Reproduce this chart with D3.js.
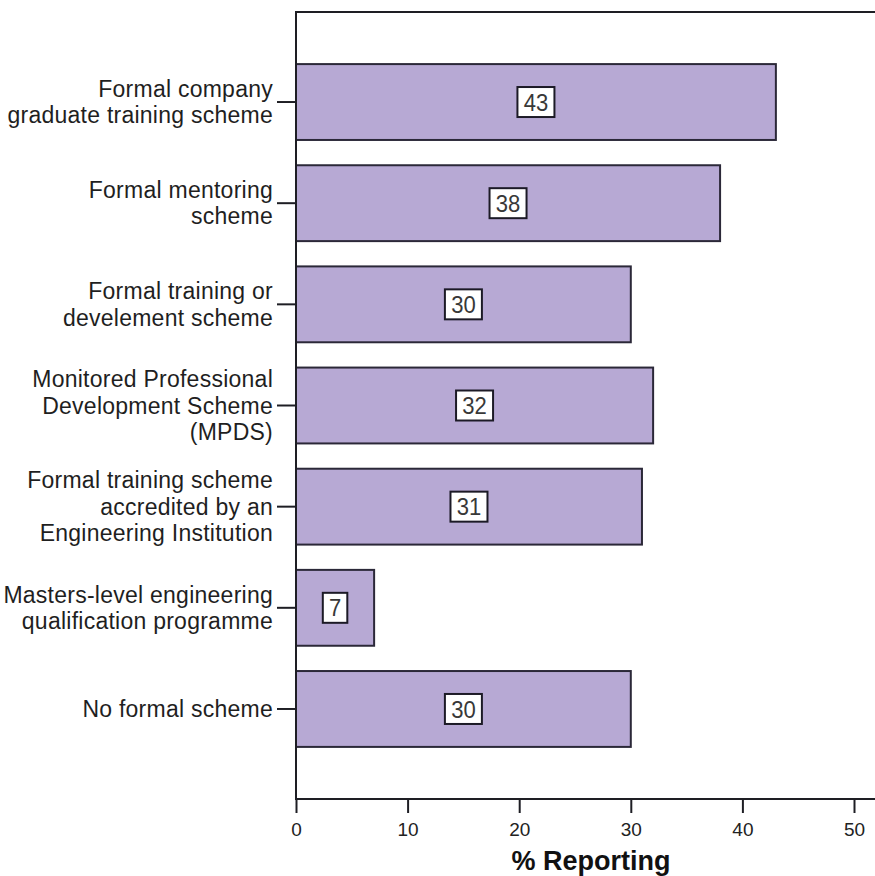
<!DOCTYPE html>
<html>
<head>
<meta charset="utf-8">
<script src="https://cdn.jsdelivr.net/npm/d3@7"></script>
<style>
  html, body { margin: 0; padding: 0; background: #fff; }
  svg { display: block; }
  text { font-family: "Liberation Sans", Arial, sans-serif; }
</style>
</head>
<body>
<svg id="chart" width="875" height="876"></svg>
<script>
// Categories (line breaks as drawn on the axis) and percentages reporting each scheme
const categories = [
  "Formal company\ngraduate training scheme",
  "Formal mentoring\nscheme",
  "Formal training or\ndevelement scheme",
  "Monitored Professional\nDevelopment Scheme\n(MPDS)",
  "Formal training scheme\naccredited by an\nEngineering Institution",
  "Masters-level engineering\nqualification programme",
  "No formal scheme"
];
const percentages = [43, 38, 30, 32, 31, 7, 30];
const xTicks = [0, 10, 20, 30, 40, 50];
const xTitle = "% Reporting";

const W = 875, H = 876;
const plotLeft = 296, plotTop = 12, plotBottom = 799;

const svg = d3.select("#chart");

const x = d3.scaleLinear().domain([0, 50]).range([plotLeft, 854]);
const y = d3.scaleBand().domain(categories).range([plotTop, plotBottom])
  .paddingInner(0.25).paddingOuter(0.515);

const ink = "#1e1e24";

// Bars
svg.append("g").selectAll("rect")
  .data(percentages)
  .join("rect")
  .attr("x", x(0))
  .attr("y", (d, i) => y(categories[i]))
  .attr("width", d => x(d) - x(0))
  .attr("height", y.bandwidth())
  .attr("fill", "#b7a9d4")
  .attr("stroke", "#2b2838")
  .attr("stroke-width", 2);

// Value boxes centred on each bar
const vals = svg.append("g").selectAll("g")
  .data(percentages)
  .join("g")
  .attr("transform", (d, i) =>
    `translate(${(x(0) + x(d)) / 2},${y(categories[i]) + y.bandwidth() / 2})`);

vals.each(function (d) {
  const g = d3.select(this);
  g.append("text")
    .attr("text-anchor", "middle")
    .attr("dy", "0.36em")
    .attr("font-size", 24)
    .attr("fill", "#383838")
    .attr("transform", "scale(0.92,1)")
    .text(d);
  const w = String(d).length * 12.5 + 12;
  g.insert("rect", "text")
    .attr("x", -w / 2)
    .attr("y", -15)
    .attr("width", w)
    .attr("height", 30)
    .attr("fill", "#fff")
    .attr("stroke", "#1c1a26")
    .attr("stroke-width", 2);
});

// Frame lines
svg.append("line").attr("x1", plotLeft).attr("x2", W).attr("y1", plotTop).attr("y2", plotTop)
  .attr("stroke", ink).attr("stroke-width", 2);
svg.append("line").attr("x1", plotLeft).attr("x2", plotLeft).attr("y1", plotTop - 1).attr("y2", plotBottom)
  .attr("stroke", ink).attr("stroke-width", 2);
svg.append("line").attr("x1", plotLeft - 1).attr("x2", W).attr("y1", plotBottom).attr("y2", plotBottom)
  .attr("stroke", ink).attr("stroke-width", 2);

// Category axis
const yAxis = svg.append("g")
  .attr("transform", `translate(${plotLeft},0)`)
  .call(d3.axisLeft(y).tickSize(19).tickPadding(4).tickFormat(""));
yAxis.select(".domain").remove();
yAxis.selectAll(".tick line").attr("stroke", ink).attr("stroke-width", 2);
yAxis.selectAll(".tick").each(function (d) {
  const lines = d.split("\n");
  const lh = 26.5;
  const t = d3.select(this).append("text")
    .attr("x", -23)
    .attr("text-anchor", "end")
    .attr("font-size", 23)
    .attr("letter-spacing", 0.25)
    .attr("fill", "#1f1f1f");
  lines.forEach((s, k) => {
    t.append("tspan")
      .attr("x", -23)
      .attr("y", (k - (lines.length - 1) / 2) * lh)
      .attr("dy", "0.35em")
      .text(s);
  });
});

// Value axis
const xAxis = svg.append("g")
  .attr("transform", `translate(0,${plotBottom})`)
  .call(d3.axisBottom(x).tickValues(xTicks).tickSize(14).tickPadding(10));
xAxis.select(".domain").remove();
xAxis.selectAll(".tick line").attr("stroke", ink).attr("stroke-width", 2);
xAxis.selectAll(".tick text")
  .attr("font-size", 19)
  .attr("fill", "#222")
  .attr("font-family", "'Liberation Sans', Arial, sans-serif");

svg.append("text")
  .attr("x", 591)
  .attr("y", 870)
  .attr("text-anchor", "middle")
  .attr("font-size", 27)
  .attr("font-weight", "bold")
  .attr("fill", "#111")
  .text(xTitle);
</script>
</body>
</html>
